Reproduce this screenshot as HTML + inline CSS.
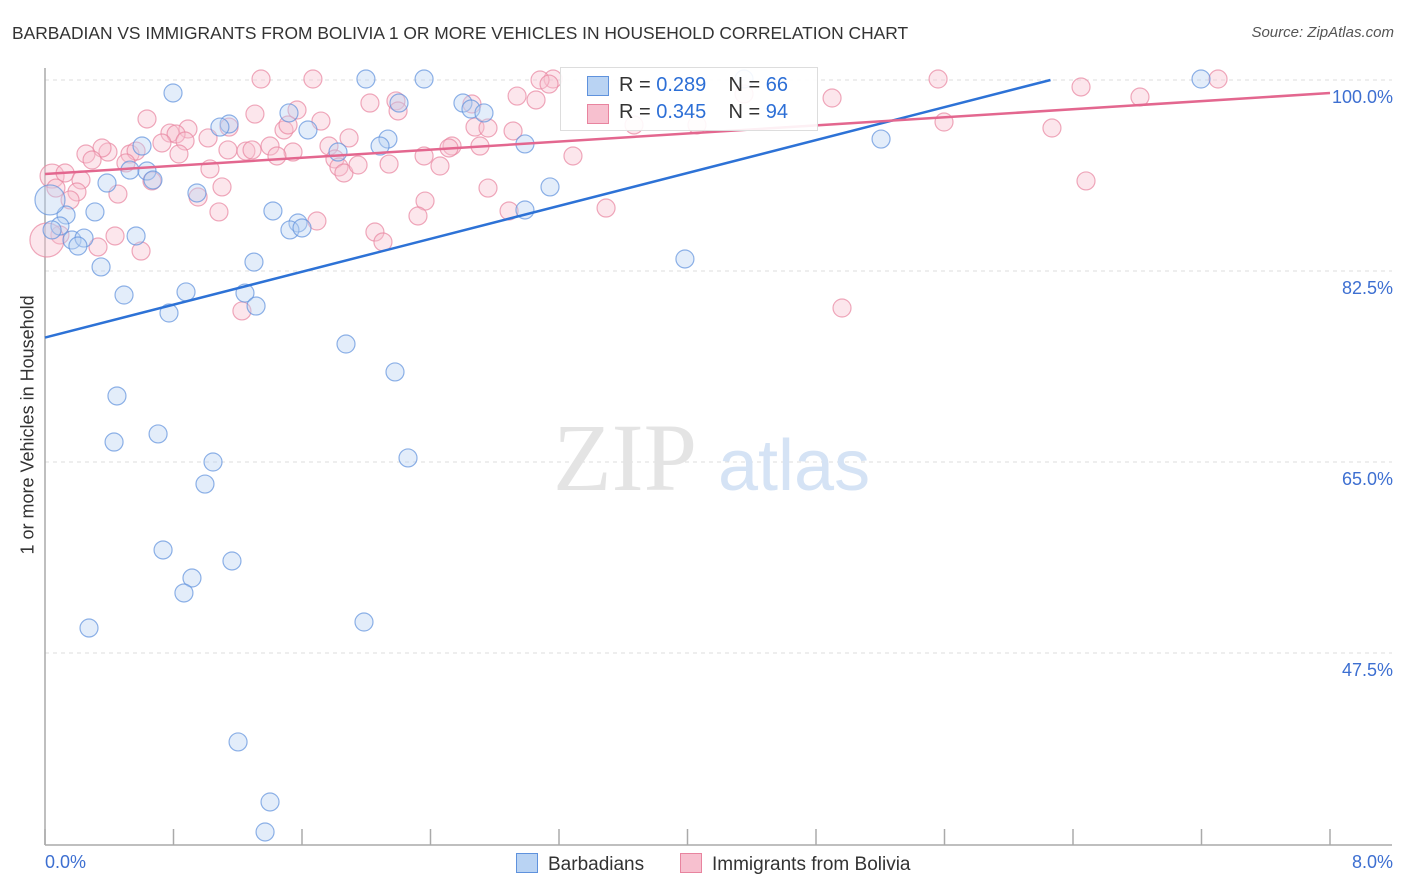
<!DOCTYPE html>
<html><head><meta charset="utf-8">
<style>
body{margin:0;background:#fff;font-family:"Liberation Sans",sans-serif;}
#wrap{position:relative;width:1406px;height:892px;overflow:hidden;}
.t{position:absolute;white-space:nowrap;}
</style></head><body>
<div id="wrap">
<div class="t" style="left:12px;top:23px;font-size:17.4px;color:#333;">BARBADIAN VS IMMIGRANTS FROM BOLIVIA 1 OR MORE VEHICLES IN HOUSEHOLD CORRELATION CHART</div>
<div class="t" style="right:12px;top:24px;font-size:15px;color:#555;font-style:italic;">Source: ZipAtlas.com</div>
<svg id="plot" width="1406" height="892" style="position:absolute;left:0;top:0"></svg>
</div>
<script>
const blueX=[173,366,424,744,1201,463,471,484,399,289,229,220,308,388,380,525,142,338,881,130,147,153,107,550,197,95,66,273,525,50,298,290,302,60,52,72,84,78,136,254,101,685,186,245,124,256,169,346,395,117,158,114,213,408,205,163,232,192,184,89,364,238,270,265].map(p=>+((p-45)/1285*8).toFixed(3));
const blueY=[93,79,79,79,79,103,109,113,103,113,124,127,130,139,146,144,146,152,139,170,171,180,183,187,193,212,215,211,210,200,223,230,228,226,230,240,238,246,236,262,267,259,292,293,295,306,313,344,372,396,434,442,462,458,484,550,561,578,593,628,622,742,802,832].map(p=>+(100-(p-80)/191*17.5).toFixed(2));
const pinkX=[261,313,553,938,1218,1081,540,517,536,549,832,1140,370,396,472,398,297,321,147,229,188,170,176,255,284,475,513,944,1052,349,185,162,208,270,293,329,228,246,252,277,108,102,86,92,130,136,179,335,339,344,358,389,424,440,452,449,480,573,634,697,744,126,52,65,81,77,118,210,222,198,152,56,70,219,317,425,418,488,509,606,1086,375,383,141,98,115,60,47,242,842,488,288].map(p=>+((p-45)/1285*8).toFixed(3));
const pinkY=[79,79,79,79,79,87,80,96,100,84,98,97,103,101,104,111,110,121,119,127,129,133,134,114,130,127,131,122,128,138,141,143,138,146,152,146,150,151,150,156,152,148,154,160,154,151,154,159,167,173,165,164,156,166,146,148,146,156,125,125,94,163,176,173,180,192,194,169,187,197,181,188,200,212,221,201,216,188,211,208,181,232,242,251,247,236,235,240,311,308,128,125].map(p=>+(100-(p-80)/191*17.5).toFixed(2));
const trendBlue=[76.4,3.77];
const trendPink=[91.39,0.927];
const yTicks=[100,82.5,65,47.5];
const yTickLabels=["100.0%","82.5%","65.0%","47.5%"];
const xMin=0,xMax=8,yMin=29.9,yMax=100;
const X=v=>45+(v-xMin)/(xMax-xMin)*1285;
const Y=v=>80+(yMax-v)/17.5*191;
const NS="http://www.w3.org/2000/svg";
const svg=document.getElementById('plot');
function mk(tag,attrs,parent){const e=document.createElementNS(NS,tag);for(const k in attrs)e.setAttribute(k,attrs[k]);(parent||svg).appendChild(e);return e;}
yTicks.forEach((v,i)=>{
 const g=mk('line',{x1:45,x2:1392,y1:Y(v),y2:Y(v),stroke:'#ddd','stroke-dasharray':'4,4'});
 
 
 const t=mk('text',{x:1393,y:Y(v)+23,'text-anchor':'end','font-size':18,fill:'#3d6fd1','font-family':'Liberation Sans, sans-serif'});
 t.textContent=yTickLabels[i];
 
 
});
const ya=mk('line',{x1:45,x2:45,y1:68,y2:845,stroke:'#aaa','stroke-width':1.5});


const xa=mk('line',{x1:45,x2:1392,y1:845,y2:845,stroke:'#aaa','stroke-width':1.5});


for(let i=0;i<=10;i++){const tk=mk('line',{x1:X(i*0.8),x2:X(i*0.8),y1:829,y2:845,stroke:'#aaa','stroke-width':1.5});
 
 }
const wm=mk('text',{x:553,y:490,'font-size':96,fill:'#e4e4e4','font-family':'Liberation Serif, serif'});wm.textContent='ZIP';


const wm2=mk('text',{x:718,y:490,'font-size':72,fill:'#d5e3f5','font-family':'Liberation Sans, sans-serif'});wm2.textContent='atlas';


function rad(x,y){
 const px=X(x),py=Y(y);
 if(Math.abs(px-50)<2&&Math.abs(py-200)<2)return 15;
 if(Math.abs(px-47)<2&&Math.abs(py-240)<2)return 17;
 if(Math.abs(px-52)<2&&Math.abs(py-176)<2)return 12;
 return 9;
}
function dots(xs,ys,fill,stroke,name){xs.forEach((x,i)=>{const c=mk('circle',{cx:X(x),cy:Y(ys[i]),r:rad(x,ys[i]),fill:fill,'fill-opacity':0.4,stroke:stroke,'stroke-width':1.2,'stroke-opacity':0.7});
 
 });}
dots(pinkX,pinkY,'#f7c0cf','#e8849f','bolivia-point');
dots(blueX,blueY,'#b9d3f3','#5f92dd','barbadian-point');
const bx2=(100-trendBlue[0])/trendBlue[1];
const tb=mk('line',{x1:X(0),y1:Y(trendBlue[0]),x2:X(bx2),y2:Y(100),stroke:'#2d72d6','stroke-width':2.5});


const tp=mk('line',{x1:X(0),y1:Y(trendPink[0]),x2:X(8),y2:Y(trendPink[0]+trendPink[1]*8),stroke:'#e3678f','stroke-width':2.5});


</script>
<div class="t" style="left:45px;top:852px;font-size:18px;color:#3d6fd1;">0.0%</div>
<div class="t" style="right:13px;top:852px;font-size:18px;color:#3d6fd1;">8.0%</div>
<div class="t" style="left:-72px;top:444px;font-size:18px;color:#333;transform:rotate(-90deg);width:200px;text-align:center;">1 or more Vehicles in Household</div>
<div style="position:absolute;left:560px;top:67px;width:256px;height:62px;background:rgba(255,255,255,.9);border:1px solid #ddd;font-size:20px;color:#333;">
 <div style="position:absolute;left:26px;top:8px;width:20px;height:18px;background:#b9d3f3;border:1px solid #5f92dd"></div>
 <div class="t" style="left:58px;top:6px;">R = <span style="color:#2d6fd6">0.289</span>&nbsp;&nbsp;&nbsp; N = <span style="color:#2d6fd6">66</span></div>
 <div style="position:absolute;left:26px;top:36px;width:20px;height:18px;background:#f7c0cf;border:1px solid #e8849f"></div>
 <div class="t" style="left:58px;top:33px;">R = <span style="color:#2d6fd6">0.345</span>&nbsp;&nbsp;&nbsp; N = <span style="color:#2d6fd6">94</span></div>
</div>
<div style="position:absolute;left:516px;top:853px;font-size:19px;color:#333;">
 <span style="display:inline-block;width:20px;height:18px;background:#b9d3f3;border:1px solid #5f92dd;vertical-align:-3px;margin-right:10px"></span>Barbadians</div>
<div style="position:absolute;left:680px;top:853px;font-size:19px;color:#333;">
 <span style="display:inline-block;width:20px;height:18px;background:#f7c0cf;border:1px solid #e8849f;vertical-align:-3px;margin-right:10px"></span>Immigrants from Bolivia</div>
</body></html>
